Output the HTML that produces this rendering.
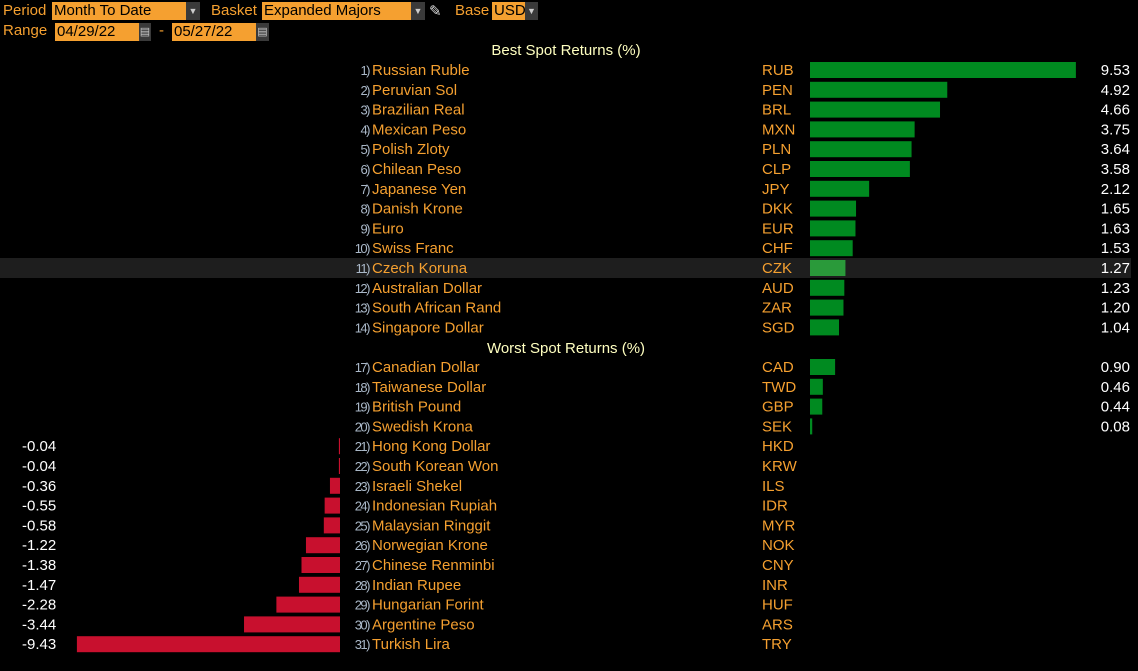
<!DOCTYPE html>
<html><head><meta charset="utf-8"><style>
body{margin:0;background:#000;width:1138px;height:671px;overflow:hidden;font-family:"Liberation Sans",sans-serif;position:relative}
.a{position:absolute;white-space:nowrap}
.lbl{color:#f5a030;font-size:15px}
.box{background:#f5a030;color:#000;font-size:15px;padding-left:2px;box-sizing:border-box;line-height:18px}
.arr{background:#3a3a3a;color:#ccc;font-size:9px;text-align:center;line-height:18px}
</style></head><body>
<div class="a lbl" style="left:3px;top:2px">Period</div>
<div class="a box" style="left:52px;top:2px;width:134px;height:18px">Month To Date</div>
<div class="a arr" style="left:186px;top:2px;width:14px;height:18px">▼</div>
<div class="a lbl" style="left:211px;top:2px">Basket</div>
<div class="a box" style="left:262px;top:2px;width:149px;height:18px">Expanded Majors</div>
<div class="a arr" style="left:411px;top:2px;width:14px;height:18px">▼</div>
<div class="a" style="left:429px;top:2px;color:#ddd;font-size:15px">✎</div>
<div class="a lbl" style="left:455px;top:2px">Base</div>
<div class="a box" style="left:492px;top:2px;width:33px;height:18px">USD</div>
<div class="a arr" style="left:525px;top:2px;width:13px;height:18px">▼</div>
<div class="a lbl" style="left:3px;top:22px">Range</div>
<div class="a box" style="left:55px;top:23px;width:84px;height:18px">04/29/22</div>
<div class="a arr" style="left:139px;top:23px;width:12px;height:18px;font-size:11px">▤</div>
<div class="a lbl" style="left:159px;top:22px">-</div>
<div class="a box" style="left:172px;top:23px;width:84px;height:18px">05/27/22</div>
<div class="a arr" style="left:256px;top:23px;width:13px;height:18px;font-size:11px">▤</div>
<svg id="c" class="a" style="left:0;top:0" width="1138" height="671"></svg>
<script>
const ranks=[1,2,3,4,5,6,7,8,9,10,11,12,13,14,17,18,19,20,21,22,23,24,25,26,27,28,29,30,31];
const names=["Russian Ruble","Peruvian Sol","Brazilian Real","Mexican Peso","Polish Zloty","Chilean Peso","Japanese Yen","Danish Krone","Euro","Swiss Franc","Czech Koruna","Australian Dollar","South African Rand","Singapore Dollar","Canadian Dollar","Taiwanese Dollar","British Pound","Swedish Krona","Hong Kong Dollar","South Korean Won","Israeli Shekel","Indonesian Rupiah","Malaysian Ringgit","Norwegian Krone","Chinese Renminbi","Indian Rupee","Hungarian Forint","Argentine Peso","Turkish Lira"];
const tickers=["RUB","PEN","BRL","MXN","PLN","CLP","JPY","DKK","EUR","CHF","CZK","AUD","ZAR","SGD","CAD","TWD","GBP","SEK","HKD","KRW","ILS","IDR","MYR","NOK","CNY","INR","HUF","ARS","TRY"];
const values=[9.53,4.92,4.66,3.75,3.64,3.58,2.12,1.65,1.63,1.53,1.27,1.23,1.20,1.04,0.90,0.46,0.44,0.08,-0.04,-0.04,-0.36,-0.55,-0.58,-1.22,-1.38,-1.47,-2.28,-3.44,-9.43];
const svg=document.getElementById('c');const NS='http://www.w3.org/2000/svg';
const K=27.9;
const posX=v=>810+v*K, negX=v=>340+v*K;
const rowY=i=>70+(i<14?i:i+1)*19.8;
function mk(t,at,txt){const e=document.createElementNS(NS,t);for(const k in at)e.setAttribute(k,at[k]);if(txt!=null)e.textContent=txt;svg.appendChild(e);return e;}
let h=mk('text',{x:566,y:55,fill:'#ffffc0','font-size':15,'text-anchor':'middle','font-family':'Liberation Sans'},'Best Spot Returns (%)');


h=mk('text',{x:566,y:353,fill:'#ffffc0','font-size':15,'text-anchor':'middle','font-family':'Liberation Sans'},'Worst Spot Returns (%)');


values.forEach((v,i)=>{
  const y=rowY(i);
  if(i===10){const r=mk('rect',{x:0,y:y-10,width:1131,height:20,fill:'#1e1e1e'});
    
    }
  const rk=mk('text',{x:369,y:y+5,fill:'#aab8c8','font-size':13,'text-anchor':'end','font-family':'Liberation Sans','letter-spacing':'-1.5'},ranks[i]+')');
  
  
  const nm=mk('text',{x:372,y:y+5,fill:'#f5a030','font-size':15,'font-family':'Liberation Sans'},names[i]);
  
  
  const tk=mk('text',{x:762,y:y+5,fill:'#f5a030','font-size':15,'font-family':'Liberation Sans'},tickers[i]);
  
  
  let b,t;
  if(v>=0){const x1=posX(v);
    b=mk('rect',{x:810,y:y-8,width:Math.max(x1-810,1.5),height:16,fill:i===10?'#2a9a3a':'#008a20'});
    t=mk('text',{x:1130,y:y+5,fill:'#fff','font-size':15,'text-anchor':'end','font-family':'Liberation Sans'},v.toFixed(2));
  }else{const x0=negX(v);
    b=mk('rect',{x:x0,y:y-8,width:Math.max(340-x0,1),height:16,fill:'#c8102e'});
    t=mk('text',{x:22,y:y+5,fill:'#fff','font-size':15,'font-family':'Liberation Sans'},v.toFixed(2));
  }
  
  
  
  
});
</script>
</body></html>
